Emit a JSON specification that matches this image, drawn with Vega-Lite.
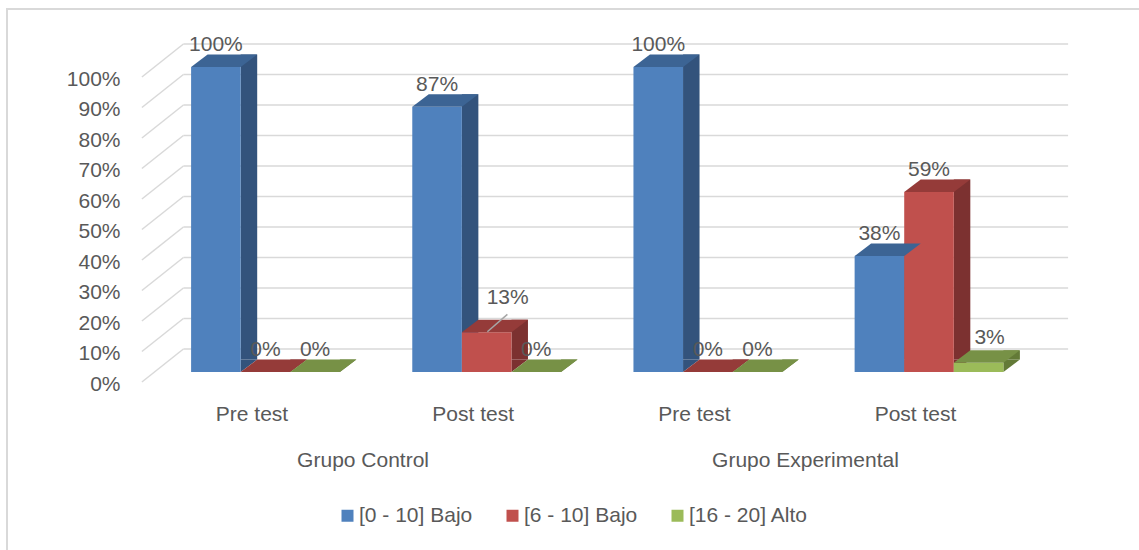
{
  "$schema": "https://vega.github.io/schema/vega-lite/v6.json",
  "width": 1140,
  "height": 545,
  "autosize": {"type": "none"},
  "padding": {"left": 7, "top": 9, "right": 0, "bottom": 0},
  "background": "white",
  "config": {
    "view": {"stroke": "#D9D9D9", "strokeWidth": 2},
    "font": "Liberation Sans",
    "axis": {
      "labelFont": "Liberation Sans",
      "labelFontSize": 21,
      "labelColor": "#595959",
      "domain": false,
      "ticks": false,
      "tickSize": 0,
      "grid": false,
      "labelPadding": 0,
      "labelLimit": 400,
      "title": null
    },
    "text": {"font": "Liberation Sans", "fontSize": 21, "fill": "#595959"}
  },
  "datasets": {
    "niveles": [
      {"grupo": "Grupo Control", "prueba": "Pre test", "nivel": "[0 - 10] Bajo", "pct": 1.00},
      {"grupo": "Grupo Control", "prueba": "Pre test", "nivel": "[6 - 10] Bajo", "pct": 0.00},
      {"grupo": "Grupo Control", "prueba": "Pre test", "nivel": "[16 - 20] Alto", "pct": 0.00},
      {"grupo": "Grupo Control", "prueba": "Post test", "nivel": "[0 - 10] Bajo", "pct": 0.87},
      {"grupo": "Grupo Control", "prueba": "Post test", "nivel": "[6 - 10] Bajo", "pct": 0.13},
      {"grupo": "Grupo Control", "prueba": "Post test", "nivel": "[16 - 20] Alto", "pct": 0.00},
      {"grupo": "Grupo Experimental", "prueba": "Pre test", "nivel": "[0 - 10] Bajo", "pct": 1.00},
      {"grupo": "Grupo Experimental", "prueba": "Pre test", "nivel": "[6 - 10] Bajo", "pct": 0.00},
      {"grupo": "Grupo Experimental", "prueba": "Pre test", "nivel": "[16 - 20] Alto", "pct": 0.00},
      {"grupo": "Grupo Experimental", "prueba": "Post test", "nivel": "[0 - 10] Bajo", "pct": 0.38},
      {"grupo": "Grupo Experimental", "prueba": "Post test", "nivel": "[6 - 10] Bajo", "pct": 0.59},
      {"grupo": "Grupo Experimental", "prueba": "Post test", "nivel": "[16 - 20] Alto", "pct": 0.03}
    ],
    "marcas": [
      {"v": 0}, {"v": 0.1}, {"v": 0.2}, {"v": 0.3}, {"v": 0.4}, {"v": 0.5},
      {"v": 0.6}, {"v": 0.7}, {"v": 0.8}, {"v": 0.9}, {"v": 1}
    ]
  },
  "resolve": {"scale": {"x": "independent"}},
  "layer": [
    {
      "data": {"name": "niveles"},
      "transform": [{"calculate": "datum.grupo + '|' + datum.prueba", "as": "clave"}],
      "resolve": {"scale": {"xOffset": "independent", "fill": "independent"}},
      "layer": [
        {
          "description": "back-wall gridlines",
          "data": {"name": "marcas"},
          "mark": {"type": "rule", "color": "#D9D9D9", "strokeWidth": 1.5, "xOffset": 28.5, "x2Offset": 28.5, "yOffset": -23},
          "encoding": {
            "x": {"datum": "Grupo Control|Pre test", "type": "nominal", "bandPosition": 0, "title": null},
            "x2": {"datum": "Grupo Experimental|Post test", "bandPosition": 1},
            "y": {"field": "v", "type": "quantitative", "title": null}
          }
        },
        {
          "description": "side-wall gridlines running to the front edge",
          "data": {"name": "marcas"},
          "mark": {"type": "rule", "color": "#D9D9D9", "strokeWidth": 1.5, "xOffset": 28.5, "x2Offset": -13, "yOffset": -23, "y2Offset": 10},
          "encoding": {
            "x": {"datum": "Grupo Control|Pre test", "type": "nominal", "bandPosition": 0, "title": null},
            "x2": {"datum": "Grupo Control|Pre test", "bandPosition": 0},
            "y": {"field": "v", "type": "quantitative", "title": null},
            "y2": {"field": "v"}
          }
        },
        {
          "description": "right side face of each column",
          "mark": {"type": "bar", "width": 16.5, "yOffset": -12.5, "y2Offset": -12.5},
          "encoding": {
            "x": {"field": "clave", "type": "nominal", "title": null},
            "xOffset": {"field": "nivel", "type": "nominal", "scale": {"type": "band", "domain": ["[0 - 10] Bajo", "[6 - 10] Bajo", "[16 - 20] Alto"], "range": [33.05, 254.225], "paddingInner": 0, "paddingOuter": 0.73}},
            "y": {"field": "pct", "type": "quantitative", "title": null},
            "y2": {"datum": 0},
            "fill": {"field": "nivel", "type": "nominal", "scale": {"domain": ["[0 - 10] Bajo", "[6 - 10] Bajo", "[16 - 20] Alto"], "range": ["#33537C", "#7C3130", "#637A37"]}, "legend": null}
          }
        },
        {
          "description": "lower corner of the side face",
          "mark": {"type": "point", "shape": "M24.8,-12.5L24.8,0L41.3,-12.5Z", "size": 4, "filled": true, "opacity": 1, "strokeWidth": 0},
          "encoding": {
            "x": {"field": "clave", "type": "nominal", "title": null},
            "xOffset": {"field": "nivel", "type": "nominal", "scale": {"type": "band", "domain": ["[0 - 10] Bajo", "[6 - 10] Bajo", "[16 - 20] Alto"], "paddingInner": 0, "paddingOuter": 0.73}},
            "y": {"datum": 0, "type": "quantitative", "title": null},
            "fill": {"field": "nivel", "type": "nominal", "scale": {"domain": ["[0 - 10] Bajo", "[6 - 10] Bajo", "[16 - 20] Alto"], "range": ["#33537C", "#7C3130", "#637A37"]}, "legend": null}
          }
        },
        {
          "description": "front face of each column",
          "mark": {"type": "bar"},
          "encoding": {
            "x": {
              "field": "clave", "type": "nominal", "title": null,
              "scale": {"domain": ["Grupo Control|Pre test", "Grupo Control|Post test", "Grupo Experimental|Pre test", "Grupo Experimental|Post test"], "range": [147.9, 1032.6], "paddingInner": 0, "paddingOuter": 0},
              "axis": {"orient": "bottom", "offset": -134, "labelOffset": -13.5, "labelAlign": "center", "labelBaseline": "alphabetic", "labelAngle": 0, "labelExpr": "split(datum.label, '|')[1]"}
            },
            "xOffset": {"field": "nivel", "type": "nominal", "scale": {"type": "band", "domain": ["[0 - 10] Bajo", "[6 - 10] Bajo", "[16 - 20] Alto"], "paddingInner": 0, "paddingOuter": 0.73}},
            "y": {
              "field": "pct", "type": "quantitative", "title": null,
              "scale": {"domain": [0, 1], "range": [363, 58], "nice": false},
              "axis": {"orient": "left", "offset": -113, "labelOffset": 12, "format": ".0%", "values": [0, 0.1, 0.2, 0.3, 0.4, 0.5, 0.6, 0.7, 0.8, 0.9, 1]}
            },
            "color": {
              "field": "nivel", "type": "nominal",
              "scale": {"domain": ["[0 - 10] Bajo", "[6 - 10] Bajo", "[16 - 20] Alto"], "range": ["#4F81BD", "#C0504D", "#9BBB59"]},
              "legend": {
                "orient": "none", "legendX": 330, "legendY": 496, "direction": "horizontal", "title": null,
                "symbolType": "square", "symbolSize": 144, "symbolStrokeWidth": 0,
                "labelFont": "Liberation Sans", "labelFontSize": 21, "labelColor": "#595959",
                "labelOffset": 1, "columnPadding": 29, "padding": 0
              }
            }
          }
        },
        {
          "description": "top face of each column",
          "mark": {"type": "point", "shape": "M-24.8,0L24.8,0L41.3,-12.5L-8.3,-12.5Z", "size": 4, "filled": true, "opacity": 1, "strokeWidth": 0},
          "encoding": {
            "x": {"field": "clave", "type": "nominal", "title": null},
            "xOffset": {"field": "nivel", "type": "nominal", "scale": {"type": "band", "domain": ["[0 - 10] Bajo", "[6 - 10] Bajo", "[16 - 20] Alto"], "paddingInner": 0, "paddingOuter": 0.73}},
            "y": {"field": "pct", "type": "quantitative", "title": null},
            "fill": {"field": "nivel", "type": "nominal", "scale": {"domain": ["[0 - 10] Bajo", "[6 - 10] Bajo", "[16 - 20] Alto"], "range": ["#3C6494", "#953B39", "#779146"]}, "legend": null}
          }
        },
        {
          "description": "value labels above the columns",
          "transform": [{"filter": "!(datum.grupo == 'Grupo Control' && datum.prueba == 'Post test' && datum.nivel == '[6 - 10] Bajo') && !(datum.grupo == 'Grupo Experimental' && datum.prueba == 'Post test' && datum.nivel == '[16 - 20] Alto')"}],
          "mark": {"type": "text", "align": "center", "baseline": "alphabetic", "dy": -16, "fontSize": 21, "color": "#595959"},
          "encoding": {
            "x": {"field": "clave", "type": "nominal", "title": null},
            "xOffset": {"field": "nivel", "type": "nominal", "scale": {"type": "band", "domain": ["[0 - 10] Bajo", "[6 - 10] Bajo", "[16 - 20] Alto"], "paddingInner": 0, "paddingOuter": 0.73}},
            "y": {"field": "pct", "type": "quantitative", "title": null},
            "text": {"field": "pct", "type": "quantitative", "format": ".0%"}
          }
        },
        {
          "description": "leader line for the label moved off its column",
          "transform": [{"filter": "datum.grupo == 'Grupo Control' && datum.prueba == 'Post test' && datum.nivel == '[6 - 10] Bajo'"}],
          "mark": {"type": "point", "shape": "M0.7,-0.6L20.7,-18", "size": 4, "filled": false, "opacity": 1, "color": "#A6A6A6", "strokeWidth": 1.5},
          "encoding": {
            "x": {"field": "clave", "type": "nominal", "title": null},
            "xOffset": {"field": "nivel", "type": "nominal", "scale": {"type": "band", "domain": ["[0 - 10] Bajo", "[6 - 10] Bajo", "[16 - 20] Alto"], "paddingInner": 0, "paddingOuter": 0.73}},
            "y": {"field": "pct", "type": "quantitative", "title": null}
          }
        },
        {
          "description": "label moved off its column, with the leader line",
          "transform": [{"filter": "datum.grupo == 'Grupo Control' && datum.prueba == 'Post test' && datum.nivel == '[6 - 10] Bajo'"}],
          "mark": {"type": "text", "align": "center", "baseline": "alphabetic", "dx": 21, "dy": -28, "fontSize": 21, "color": "#595959"},
          "encoding": {
            "x": {"field": "clave", "type": "nominal", "title": null},
            "xOffset": {"field": "nivel", "type": "nominal", "scale": {"type": "band", "domain": ["[0 - 10] Bajo", "[6 - 10] Bajo", "[16 - 20] Alto"], "paddingInner": 0, "paddingOuter": 0.73}},
            "y": {"field": "pct", "type": "quantitative", "title": null},
            "text": {"field": "pct", "type": "quantitative", "format": ".0%"}
          }
        },
        {
          "description": "label nudged over the short column's top face",
          "transform": [{"filter": "datum.grupo == 'Grupo Experimental' && datum.prueba == 'Post test' && datum.nivel == '[16 - 20] Alto'"}],
          "mark": {"type": "text", "align": "center", "baseline": "alphabetic", "dx": 11, "dy": -19, "fontSize": 21, "color": "#595959"},
          "encoding": {
            "x": {"field": "clave", "type": "nominal", "title": null},
            "xOffset": {"field": "nivel", "type": "nominal", "scale": {"type": "band", "domain": ["[0 - 10] Bajo", "[6 - 10] Bajo", "[16 - 20] Alto"], "paddingInner": 0, "paddingOuter": 0.73}},
            "y": {"field": "pct", "type": "quantitative", "title": null},
            "text": {"field": "pct", "type": "quantitative", "format": ".0%"}
          }
        }
      ]
    },
    {
      "description": "group names under each pair of categories",
      "data": {"name": "niveles"},
      "mark": {"type": "tick", "opacity": 0},
      "encoding": {
        "x": {
          "field": "grupo", "type": "nominal", "title": null,
          "scale": {"domain": ["Grupo Control", "Grupo Experimental"], "range": [147.9, 1032.6], "paddingInner": 0, "paddingOuter": 0},
          "axis": {"orient": "bottom", "offset": -88, "labelOffset": -13, "labelAlign": "center", "labelBaseline": "alphabetic", "labelAngle": 0}
        }
      }
    }
  ]
}
